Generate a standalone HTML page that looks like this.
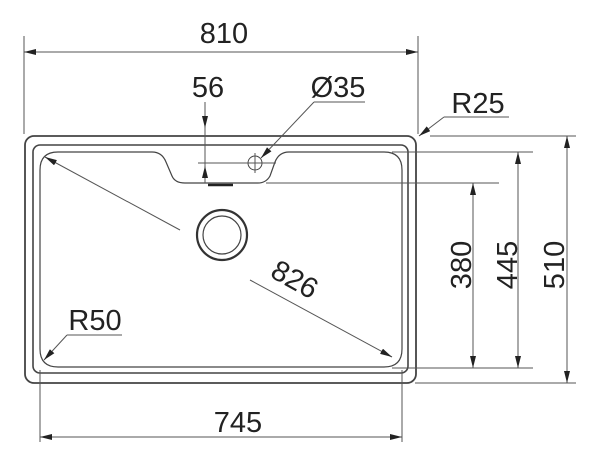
<!DOCTYPE html>
<html><head><style>body{margin:0;background:#fff}svg{display:block}text{font-family:"Liberation Sans",sans-serif;fill:#222}</style></head><body>
<svg width="600" height="458" viewBox="0 0 600 458" xmlns="http://www.w3.org/2000/svg">
<defs><marker id="a" markerWidth="12" markerHeight="6" refX="12" refY="3" orient="auto-start-reverse" markerUnits="userSpaceOnUse"><path d="M0,0 L12,3 L0,6z" fill="#222"/></marker></defs>
<g fill="none" stroke="#444">
<rect x="25" y="136" width="391" height="247" rx="9" stroke-width="1.8"/>
<rect x="33" y="145" width="375" height="228" rx="7" stroke-width="1.6"/>
<path d="M58,152 H152 Q162,152 166,162 L172,176 Q175,183 185,183 H258 Q266,183 270,176 L275,162 Q279,152 289,152 H384 Q402,152 402,170 V349 Q402,367 384,367 H58 Q40,367 40,349 V170 Q40,152 58,152Z" stroke-width="1.2"/>
<circle cx="222" cy="235" r="25" stroke-width="2.2" stroke="#333"/>
<circle cx="222" cy="235" r="19" stroke-width="1.2"/>
<circle cx="255" cy="163" r="7" stroke-width="1"/>
</g>
<g stroke="#555" stroke-width="1" fill="none">
<line x1="255" y1="153" x2="255" y2="173"/>
<line x1="198" y1="163" x2="276" y2="163"/>
<line x1="208" y1="185" x2="233" y2="185" stroke="#222" stroke-width="2.5"/>
<line x1="24" y1="36" x2="24" y2="134"/><line x1="418" y1="36" x2="418" y2="134"/>
<line x1="24" y1="52" x2="418" y2="52" marker-start="url(#a)" marker-end="url(#a)"/>
<line x1="205" y1="102" x2="205" y2="183"/>
<line x1="205" y1="102" x2="205" y2="128" marker-end="url(#a)"/>
<line x1="205" y1="183" x2="205" y2="166" marker-end="url(#a)"/>
<line x1="365" y1="102" x2="314" y2="102"/><line x1="314" y1="102" x2="261" y2="158" marker-end="url(#a)"/>
<line x1="509" y1="117" x2="444" y2="117"/><line x1="444" y1="117" x2="419" y2="136" marker-end="url(#a)"/>
<line x1="430" y1="136" x2="576" y2="136"/><line x1="415" y1="383" x2="576" y2="383"/>
<line x1="567" y1="136" x2="567" y2="383" marker-start="url(#a)" marker-end="url(#a)"/>
<line x1="392" y1="152" x2="533" y2="152"/><line x1="392" y1="368" x2="533" y2="368"/>
<line x1="518" y1="152" x2="518" y2="368" marker-start="url(#a)" marker-end="url(#a)"/>
<line x1="266" y1="183" x2="499" y2="183"/>
<line x1="473" y1="183" x2="473" y2="368" marker-start="url(#a)" marker-end="url(#a)"/>
<line x1="40" y1="370" x2="40" y2="442"/><line x1="402" y1="370" x2="402" y2="442"/>
<line x1="40" y1="437" x2="402" y2="437" marker-start="url(#a)" marker-end="url(#a)"/>
<line x1="180" y1="230" x2="45" y2="157" marker-end="url(#a)"/>
<line x1="250" y1="280" x2="392" y2="357" marker-end="url(#a)"/>
<line x1="122" y1="335" x2="67" y2="335"/><line x1="67" y1="335" x2="44" y2="360" marker-end="url(#a)"/>
</g>
<g font-size="29">
<text x="224" y="43" text-anchor="middle">810</text>
<text x="208" y="97" text-anchor="middle">56</text>
<text x="338" y="97" text-anchor="middle">Ø35</text>
<text x="478" y="113" text-anchor="middle">R25</text>
<text x="95" y="330" text-anchor="middle">R50</text>
<text x="238" y="432" text-anchor="middle">745</text>
<text transform="translate(290,288) rotate(29)" text-anchor="middle">826</text>
<text transform="translate(471,265) rotate(-90)" text-anchor="middle">380</text>
<text transform="translate(517,265) rotate(-90)" text-anchor="middle">445</text>
<text transform="translate(564,265) rotate(-90)" text-anchor="middle">510</text>
</g>
</svg>
</body></html>
